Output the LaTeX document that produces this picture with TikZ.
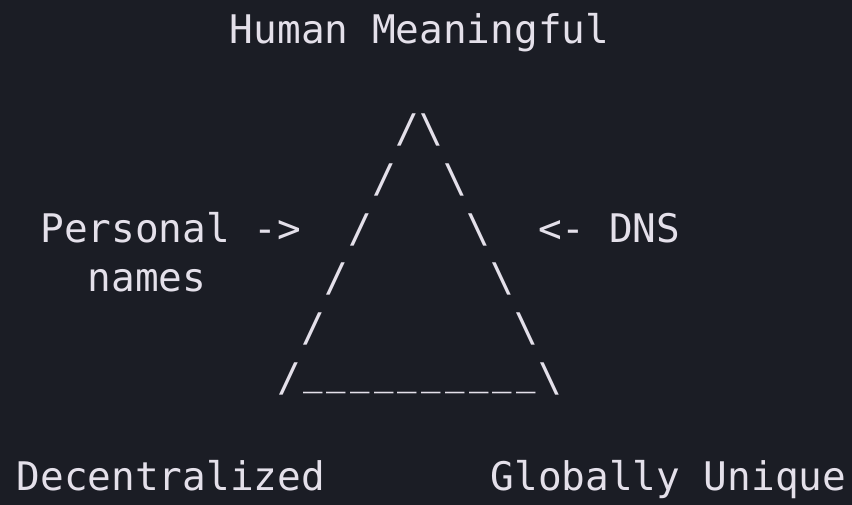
\documentclass[tikz,border=0pt]{standalone}
\usepackage{fontspec}
\newfontfamily\mono{DejaVu Sans Mono}
\definecolor{bg}{RGB}{27,29,37}
\definecolor{fg}{RGB}{228,224,234}
\tikzset{
  ascii/.style={anchor=base west, inner sep=0pt, outer sep=0pt, text=fg,
    font=\mono\fontsize{39.4}{49.7}\selectfont},
  % one underscore, centred in its cell and sitting on the baseline
  underbar/.style={ascii, anchor=base, yshift=7pt}
}
\begin{document}
\begin{tikzpicture}
  % canvas
  \fill[bg] (0pt,0pt) rectangle (852pt,-505pt);
  \useasboundingbox (0pt,0pt) rectangle (852pt,-505pt);
  % character grid: one unit = one column / one text line
  \begin{scope}[shift={(16.6pt,-43.3pt)}, x=23.7pt, y=-49.7pt]
    % top corner label
    \node[ascii] (human) at (9,0) {Human};
    \node[ascii] (meaningful) at (15,0) {Meaningful};
    % apex
    \node[ascii] (apex) at (16,2) {/\textbackslash};
    % sides of the triangle
    \node[ascii] (l3) at (15,3) {/};
    \node[ascii] (r3) at (18,3) {\textbackslash};
    \node[ascii] (personal) at (1,4) {Personal};
    \node[ascii] (arrowl) at (10,4) {->};
    \node[ascii] (l4) at (14,4) {/};
    \node[ascii] (r4) at (19,4) {\textbackslash};
    \node[ascii] (arrowr) at (22,4) {<-};
    \node[ascii] (dns) at (25,4) {DNS};
    \node[ascii] (names) at (3,5) {names};
    \node[ascii] (l5) at (13,5) {/};
    \node[ascii] (r5) at (20,5) {\textbackslash};
    \node[ascii] (l6) at (12,6) {/};
    \node[ascii] (r6) at (21,6) {\textbackslash};
    % base
    \node[ascii] (l7) at (11,7) {/};
    \foreach \i in {12,...,21}
      \node[underbar] (u\i) at (\i+0.5,7) {\scalebox{0.82}[1]{\_}};
    \node[ascii] (r7) at (22,7) {\textbackslash};
    % bottom corner labels
    \node[ascii] (decentralized) at (0,9) {Decentralized};
    \node[ascii] (globally) at (20,9) {Globally};
    \node[ascii] (unique) at (29,9) {Unique};
  \end{scope}
\end{tikzpicture}
\end{document}
